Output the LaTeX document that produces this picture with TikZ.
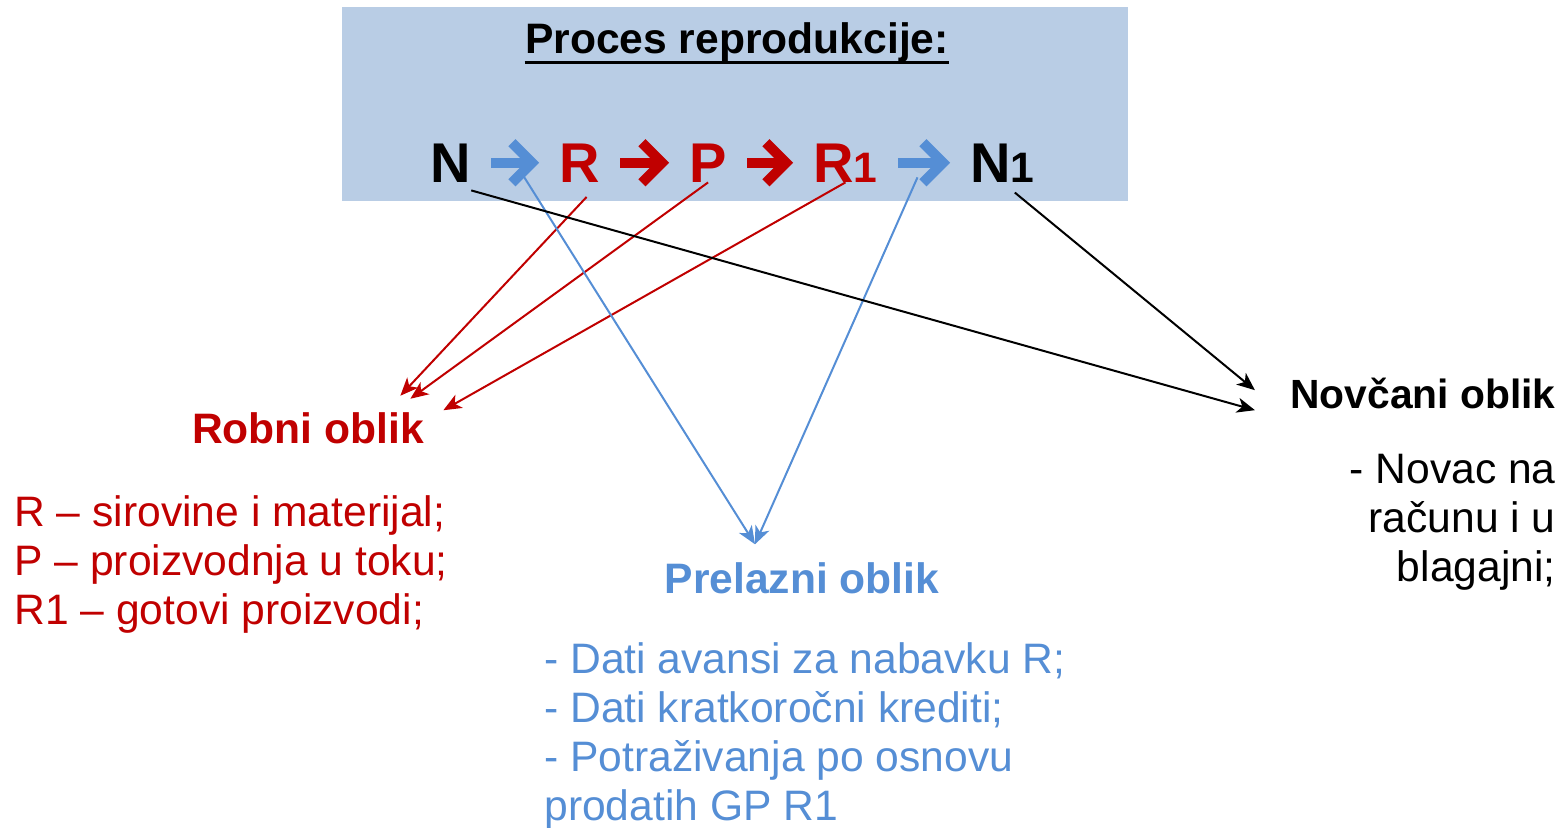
\documentclass[tikz,border=0pt]{standalone}
\usepackage{fontspec}
\setmainfont{Liberation Sans}
\usetikzlibrary{arrows.meta}
\definecolor{boxblue}{HTML}{B9CDE5}
\definecolor{darkred}{HTML}{C00000}
\definecolor{lightblue}{HTML}{558ED5}
\newcommand{\bodysize}{\fontsize{21.3pt}{24.5pt}\selectfont}
\newcommand{\chainsize}{\fontsize{28pt}{30pt}\selectfont}
\begin{document}
\begin{tikzpicture}[x=0.5pt, y=-0.5pt,
    txt/.style={inner sep=0pt, font=\bodysize},
    chainnode/.style={inner sep=0pt, anchor=base west, font=\chainsize\bfseries},
    chainarrow/.style={line width=5pt, shorten <=10pt, shorten >=10pt, -{Straight Barb[length=10pt,width=20pt]}},
    link/.style={line width=1pt, -{Stealth[length=9pt,width=7.5pt,inset=2.5pt]}}]
    \useasboundingbox (0,0) rectangle (1564,827);
    \node(procbox) [fill=boxblue, minimum width=393pt, minimum height=97pt, inner sep=0pt, anchor=north west] at (342,7) {};
    \node(title) [txt, font=\bodysize\bfseries, anchor=base] at (737,53) {Proces reprodukcije:};
    \draw[line width=1.5pt] ([yshift=-4.5pt]title.base west) -- ([yshift=-4.5pt]title.base east);
    % N -> R -> P -> R1 -> N1
    \node(N) [chainnode] at (430,182) {N};
    \node(R) [chainnode, text=darkred] at (559,182) {R};
    \node(P) [chainnode, text=darkred] at (689,182) {P};
    \node(R1) [chainnode, text=darkred] at (813,182) {R{\bodysize 1}};
    \node(N1) [chainnode] at (970,182) {N{\bodysize 1}};
    \draw[chainarrow, lightblue] (N) -- coordinate[midway] (nr) (R);
    \draw[chainarrow, darkred] (R) -- (P);
    \draw[chainarrow, darkred] (P) -- (R1);
    \draw[chainarrow, lightblue] (R1) -- coordinate[midway] (rn) (N1);
    % oblici
    \node(robni) [txt, font=\bodysize\bfseries, text=darkred, anchor=base] at (308,443) {Robni oblik};
    \node(robnilist) [txt, text=darkred, anchor=north west, align=left] at (14,495) {R – sirovine i materijal;\\P – proizvodnja u toku;\\R1 – gotovi proizvodi;};
    \node(prel) [txt, font=\bodysize\bfseries, text=lightblue, anchor=base] at (802,593) {Prelazni oblik};
    \node(prellist) [txt, text=lightblue, anchor=north west, align=left] at (544,642) {- Dati avansi za nabavku R;\\- Dati kratkoročni krediti;\\- Potraživanja po osnovu\\prodatih GP R1};
    \node(novc) [txt, font=\fontsize{20.4pt}{24pt}\selectfont\bfseries, anchor=base east] at (1556,408) {Novčani oblik};
    \node(novclist) [txt, anchor=north east, align=right] at (1556,454) {- Novac na\\računu i u\\blagajni;};
    % veze
    \draw[link, darkred, shorten <=10pt] (R.south east) -- ([shift={(-12pt,8pt)}]robni.north east);
    \draw[link, darkred] (P.south) -- ([shift={(-7pt,6.5pt)}]robni.north east);
    \draw[link, darkred] (R1.south) -- ([shift={(9.5pt,0.75pt)}]robni.north east);
    \draw[link, lightblue, shorten <=8pt] (nr) -- ([shift={(-23.5pt,8.75pt)}]prel.north);
    \draw[link, lightblue, shorten <=8pt] (rn) -- ([shift={(-23.5pt,8.75pt)}]prel.north);
    \draw[link, black] ([yshift=-4pt]N.south east) -- ([shift={(-17.5pt,-8.6pt)}]novc.west);
    \draw[link, black, shorten <=8pt] (N1.south) -- ([shift={(-17.5pt,1.4pt)}]novc.west);
\end{tikzpicture}
\end{document}
